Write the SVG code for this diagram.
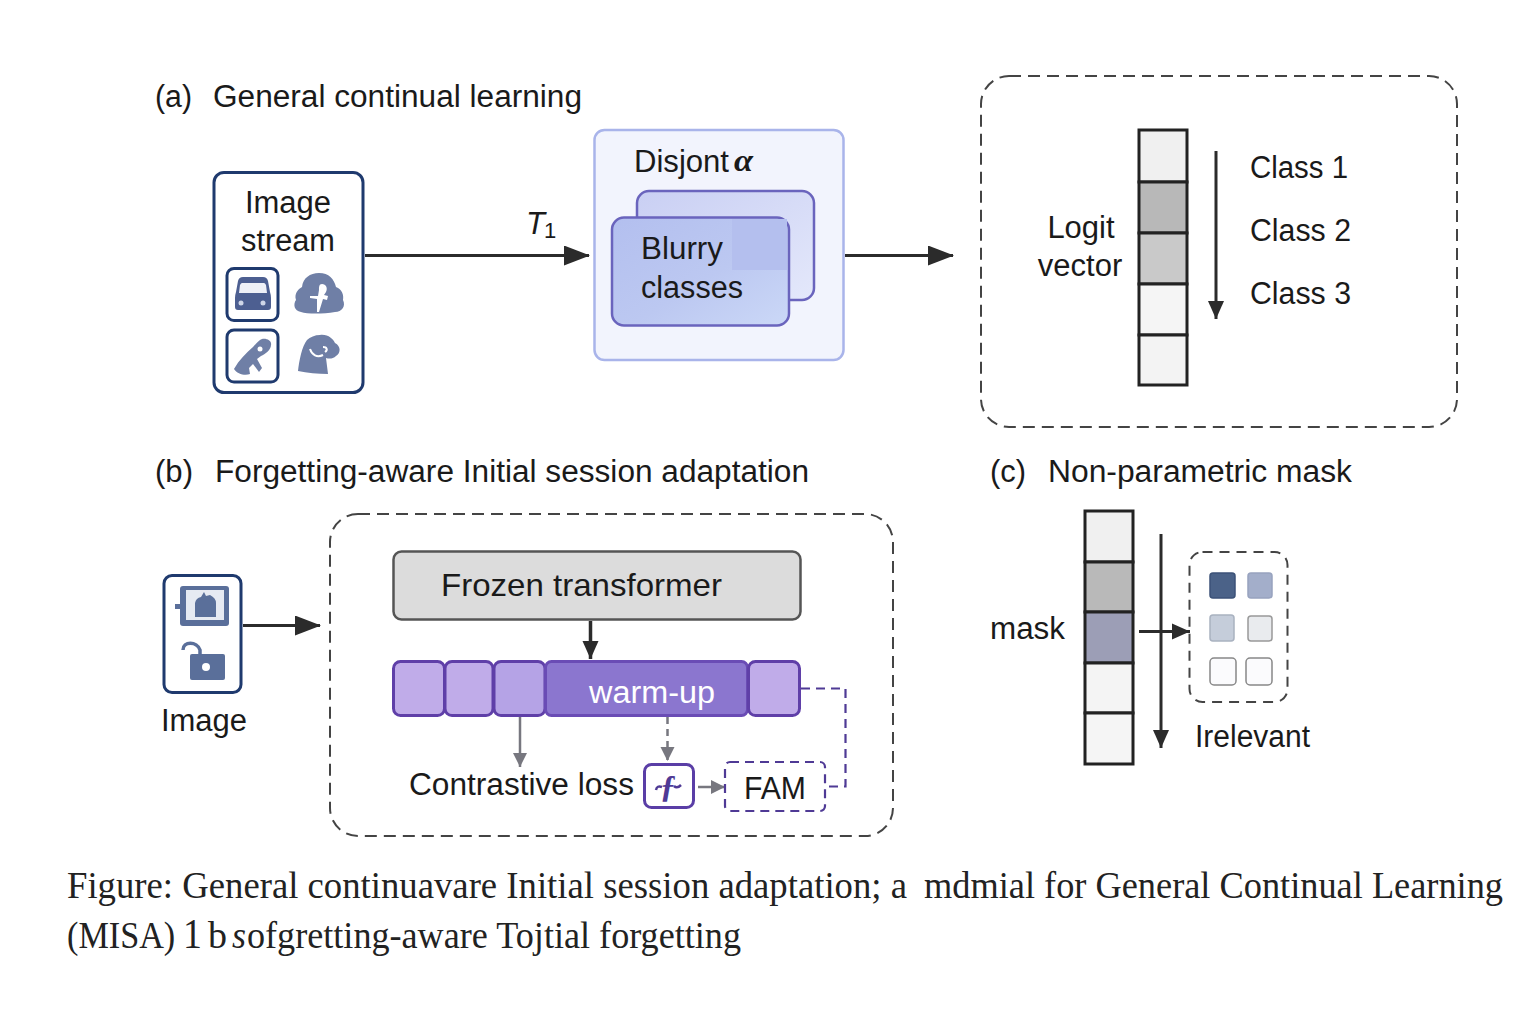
<svg xmlns="http://www.w3.org/2000/svg" width="1536" height="1024" viewBox="0 0 1536 1024">
<style>
text{font-family:"Liberation Sans",Arial,sans-serif;font-size:31px;fill:#1a1a1a}
.cap{font-family:"Liberation Serif","Times New Roman",serif;font-size:38px;fill:#222}
.dash{fill:none;stroke:#444;stroke-width:2;stroke-dasharray:12 7}
.cell{stroke:#222;stroke-width:3}
.nav{fill:#fff;stroke:#1f3a6e;stroke-width:3}
.ico{fill:#6f7fa6}
.seg{fill:#c0ace9;stroke:#5f3fa8;stroke-width:3}
.pd{fill:none;stroke:#4f3a95;stroke-width:2.2;stroke-dasharray:9 6}
.ln{fill:none;stroke:#2b2b2b;stroke-width:3}
.gl{fill:none;stroke:#77777f;stroke-width:2.5}
.sq{stroke-width:1.5}
</style>
<defs>
<marker id="a" markerUnits="userSpaceOnUse" markerWidth="26" markerHeight="20" refX="25" refY="10" orient="auto"><path d="M0 0L26 10L0 20Z" fill="#2b2b2b"/></marker>
<marker id="b" markerUnits="userSpaceOnUse" markerWidth="19" markerHeight="18" refX="18" refY="9" orient="auto"><path d="M0 1L18 9L0 17Z" fill="#2b2b2b"/></marker>
<marker id="g" markerUnits="userSpaceOnUse" markerWidth="16" markerHeight="16" refX="14" refY="7" orient="auto"><path d="M0 0L14 7L0 14Z" fill="#77777f"/></marker>
<linearGradient id="bf" x1="0" y1="0" x2="1" y2="1"><stop offset="0" stop-color="#b3bfef"/><stop offset=".55" stop-color="#bcc8f1"/><stop offset="1" stop-color="#cbd8f7"/></linearGradient>
<linearGradient id="bb" x1="0" y1="0" x2="1" y2="1"><stop offset="0" stop-color="#c9cff3"/><stop offset="1" stop-color="#e4e8fb"/></linearGradient>
</defs>

<g id="connectors">
<path class="ln" marker-end="url(#a)" d="M365 255.500H589"/>
<path class="ln" marker-end="url(#a)" d="M845 255.500H953"/>
<path class="ln" marker-end="url(#b)" d="M1216 151V319"/>
<path class="ln" marker-end="url(#a)" d="M243 625.500H320"/>
<path class="ln" style="stroke-width:3.500" marker-end="url(#b)" d="M590.500 621V659"/>
<path class="gl" marker-end="url(#g)" d="M520 717V767"/>
<path class="gl" stroke-dasharray="7 5" marker-end="url(#g)" d="M667.500 717V761"/>
<path class="gl" marker-end="url(#g)" d="M698 787H725"/>
<path class="pd" d="M801 688.500H845.500V786.500H826"/>
<path class="ln" marker-end="url(#b)" d="M1161 534V748"/>
<path class="ln" marker-end="url(#b)" d="M1139 631.500H1190"/>
</g>

<g id="title-a"><text x="155" y="107" textLength="37" lengthAdjust="spacingAndGlyphs">(a)</text><text x="213" y="107" textLength="369" lengthAdjust="spacingAndGlyphs">General continual learning</text></g>

<g id="image-stream">
<rect class="nav" x="214" y="172.500" width="149" height="220" rx="10"/>
<text x="288" y="213" text-anchor="middle">Image</text>
<text x="288" y="251" text-anchor="middle" textLength="94" lengthAdjust="spacingAndGlyphs">stream</text>
<rect class="nav" x="227" y="268.500" width="51" height="52" rx="7" stroke-width="2.500"/>
<rect class="nav" x="227" y="330" width="51" height="52" rx="7" stroke-width="2.500"/>
<path d="M243 277h20q4 0 5 4l2 11q1 3 1 6v9q0 3-3 3h-30q-3 0-3-3v-9q0-3 1-6l2-11q1-4 5-4z" fill="#4d5f91"/>
<path d="M242 283h22q1 0 2 2l1 8h-28l1-8q1-2 2-2z" fill="#eef0f7"/>
<circle cx="241" cy="303" r="2.500" fill="#cfd6e8"/><circle cx="263" cy="303" r="2.500" fill="#cfd6e8"/>
<path class="ico" d="M319 273c10 0 15 6 17 14 6 2 8 8 7 13 3 6-1 12-8 12-12 2-28 2-34 0-7-1-8-8-5-12-2-6 2-11 6-13 1-9 8-14 17-14z"/>
<path d="M322 284c4 0 6 4 4 8l-2 3 4 1-1 4-4-1-4 13h-2l0-13-7-1 0-2 8 0 1-6c0-3 0-6 3-6z" fill="#fff"/>
<path class="ico" d="M262 339c5-1 10 2 9 6 0 5-6 9-10 11l-4 3 5 9-3 4-6-8-4 4 1 6c-5 2-13 0-16-5 5-9 12-16 19-22 3-3 6-7 9-8z"/>
<circle cx="260" cy="349" r="2.500" fill="#fff"/>
<path class="ico" d="M320 335c8-1 13 4 15 8 6 3 6 10 1 13-3 3-7 3-10 2l2 16c-10 0-21-1-30-3 1-10 4-25 9-31 3-3 8-5 13-5z"/>
<path d="M310 349c2 6 7 9 13 6m0-8c4 0 5 3 2 5" fill="none" stroke="#fff" stroke-width="2"/>
</g>

<g id="t1-label"><text x="526" y="234" font-style="italic" style="font-size:31px">T</text><text x="544" y="238" style="font-size:22px">1</text></g>

<g id="disjoint">
<rect x="594.500" y="130" width="249" height="230" rx="10" fill="#f2f4fd" stroke="#a9b4ea" stroke-width="2.500"/>
<text x="634" y="172" textLength="95" lengthAdjust="spacingAndGlyphs">Disjont</text>
<text x="734" y="171" font-weight="bold" font-style="italic" textLength="19" lengthAdjust="spacingAndGlyphs" style="font-family:'Liberation Serif',serif;font-size:32px">α</text>
<rect x="637" y="191" width="177" height="109" rx="12" fill="url(#bb)" stroke="#6a64bd" stroke-width="2.500"/>
<rect x="612" y="217.500" width="177" height="108" rx="12" fill="url(#bf)" stroke="#6a64bd" stroke-width="2.500"/>
<rect x="732" y="219" width="55" height="51" fill="#b4bfee"/>
<text x="641" y="259" textLength="82" lengthAdjust="spacingAndGlyphs">Blurry</text>
<text x="641" y="298" textLength="102" lengthAdjust="spacingAndGlyphs">classes</text>
</g>

<g id="logit-panel">
<rect class="dash" x="981" y="76" width="476" height="351" rx="28"/>
<text x="1081" y="238" text-anchor="middle">Logit</text>
<text x="1080" y="276" text-anchor="middle">vector</text>
<rect class="cell" x="1139" y="130" width="48" height="52" fill="#f0f0f0"/>
<rect class="cell" x="1139" y="182" width="48" height="51" fill="#b8b8b8"/>
<rect class="cell" x="1139" y="233" width="48" height="51" fill="#c9c9c9"/>
<rect class="cell" x="1139" y="284" width="48" height="51" fill="#f5f5f5"/>
<rect class="cell" x="1139" y="335" width="48" height="50" fill="#f3f3f3"/>
<text x="1250" y="178" textLength="98" lengthAdjust="spacingAndGlyphs">Class 1</text>
<text x="1250" y="241" textLength="101" lengthAdjust="spacingAndGlyphs">Class 2</text>
<text x="1250" y="304" textLength="101" lengthAdjust="spacingAndGlyphs">Class 3</text>
</g>

<g id="title-b"><text x="155" y="482" textLength="38" lengthAdjust="spacingAndGlyphs">(b)</text><text x="215" y="482" textLength="594" lengthAdjust="spacingAndGlyphs">Forgetting-aware Initial session adaptation</text></g>
<g id="title-c"><text x="990" y="482" textLength="36" lengthAdjust="spacingAndGlyphs">(c)</text><text x="1048" y="482" textLength="304" lengthAdjust="spacingAndGlyphs">Non-parametric mask</text></g>

<g id="image-node">
<rect class="nav" x="164" y="575.500" width="77" height="117" rx="8"/>
<rect x="180" y="586" width="49" height="40" rx="3" fill="#5a6f9a"/>
<rect x="175" y="604" width="6" height="5" fill="#5a6f9a"/>
<rect x="186" y="590" width="38" height="30" fill="#e6eaf2"/>
<path d="M195 617v-14q1-5 6-6l3-5 2 4 4-1q6 3 6 8v14z" fill="#5a6f9a"/>
<rect x="190" y="654" width="35" height="26" rx="2" fill="#5a6f9a"/>
<path d="M183 650c0-9 14-9 17 0v4" fill="none" stroke="#5a6f9a" stroke-width="3.500"/>
<circle cx="206" cy="667" r="4" fill="#fff"/>
<text x="204" y="731" text-anchor="middle">Image</text>
</g>

<g id="fsa-panel"><rect class="dash" x="330" y="514" width="563" height="322" rx="28"/></g>

<g id="frozen">
<rect x="393.500" y="551.500" width="407" height="68" rx="8" fill="#dcdcdc" stroke="#555" stroke-width="2.500"/>
<text x="441" y="596" textLength="281" lengthAdjust="spacingAndGlyphs" style="font-size:32px">Frozen transformer</text>
</g>

<g id="warmup">
<rect class="seg" x="393.500" y="661.500" width="51" height="54" rx="7"/>
<rect class="seg" x="445" y="661.500" width="48" height="54" rx="7"/>
<rect class="seg" x="494" y="661.500" width="51" height="54" rx="7" style="fill:#b5a3e6"/>
<rect x="545.500" y="661.500" width="202" height="54" rx="6" fill="#8b76cf" stroke="#6a4cb5" stroke-width="3"/>
<rect class="seg" x="748.500" y="661.500" width="51" height="54" rx="7"/>
<text x="589" y="703" textLength="126" lengthAdjust="spacingAndGlyphs" style="fill:#fff">warm-up</text>
</g>

<g id="contrastive"><text x="409" y="795" textLength="225" lengthAdjust="spacingAndGlyphs">Contrastive loss</text></g>
<g id="f-node">
<rect x="644.500" y="764.500" width="49" height="43" rx="7" fill="#fff" stroke="#5a3ea6" stroke-width="3"/>
<text x="668" y="797" text-anchor="middle" font-style="italic" font-weight="bold" style="font-family:'Liberation Serif',serif;font-size:32px;fill:#4f3a95">ƒ</text>
<path d="M656 790q1-5 6-3m12-1q3 3 7-1" fill="none" stroke="#4f3a95" stroke-width="2.500"/>
</g>
<g id="fam">
<rect class="pd" x="725" y="762" width="100" height="49" rx="5"/>
<text x="775" y="799" text-anchor="middle" textLength="62" lengthAdjust="spacingAndGlyphs">FAM</text>
</g>

<g id="mask-node">
<text x="990" y="639" textLength="75" lengthAdjust="spacingAndGlyphs">mask</text>
<rect class="cell" x="1085" y="511" width="48" height="51" fill="#f0f0f0"/>
<rect class="cell" x="1085" y="562" width="48" height="50" fill="#b9b9b9"/>
<rect class="cell" x="1085" y="612" width="48" height="51" fill="#9c9eb6"/>
<rect class="cell" x="1085" y="663" width="48" height="50" fill="#f4f4f4"/>
<rect class="cell" x="1085" y="713" width="48" height="51" fill="#f5f5f5"/>
</g>

<g id="irrelevant">
<rect class="dash" x="1189.500" y="552" width="98" height="150" rx="13" style="stroke-dasharray:10 7"/>
<rect class="sq" x="1210" y="573" width="25" height="25" rx="3" fill="#4b6288" stroke="#3c5278"/>
<rect class="sq" x="1248" y="573" width="24" height="25" rx="3" fill="#a3aeca" stroke="#98a3bf"/>
<rect class="sq" x="1210" y="615" width="24" height="26" rx="3" fill="#c5cdda" stroke="#a9b2c0"/>
<rect class="sq" x="1248" y="616" width="24" height="25" rx="3" fill="#e9ebee" stroke="#999"/>
<rect class="sq" x="1210" y="658" width="26" height="27" rx="4" fill="#fbfbfd" stroke="#888"/>
<rect class="sq" x="1246" y="658" width="26" height="27" rx="4" fill="#fbfbfd" stroke="#888"/>
<text x="1195" y="747" textLength="115" lengthAdjust="spacingAndGlyphs">Irelevant</text>
</g>

<g id="caption">
<text class="cap" x="67" y="898" textLength="840" lengthAdjust="spacingAndGlyphs">Figure: General continuavare Initial session adaptation; a</text>
<text class="cap" x="924" y="898" textLength="579" lengthAdjust="spacingAndGlyphs">mdmial for General Continual Learning</text>
<text class="cap" transform="translate(67 948) scale(.9 1)">(MISA)<tspan x="129" style="font-size:42px">1</tspan></text>
<text class="cap" x="208" y="948">b</text>
<text class="cap" x="232" y="948" font-style="italic" textLength="14" lengthAdjust="spacingAndGlyphs">s</text>
<text class="cap" x="247" y="948" textLength="494" lengthAdjust="spacingAndGlyphs">ofgretting-aware Tojtial forgetting</text>
</g>
</svg>
